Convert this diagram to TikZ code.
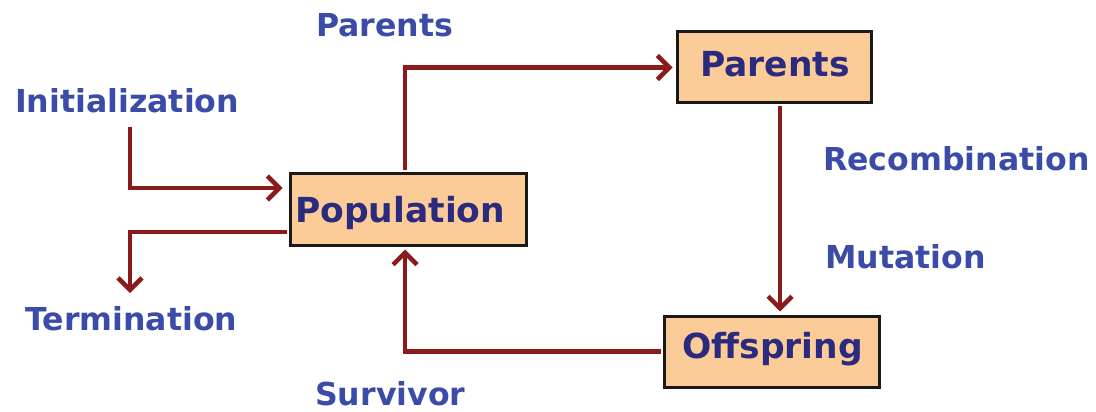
\documentclass[tikz,border=0pt]{standalone}
\usepackage{fontspec}
\setmainfont{DejaVu Sans}
\usetikzlibrary{arrows.meta}
\definecolor{boxfill}{HTML}{FBCB98}
\definecolor{boxtext}{HTML}{2A2A7E}
\definecolor{labtext}{HTML}{3A4BA8}
\definecolor{flow}{HTML}{8B1A1A}
\tikzset{
  stage/.style={draw=black!90, line width=3pt, fill=boxfill, inner sep=0pt},
  stagetext/.style={anchor=base west, inner sep=0pt, text=boxtext,
    font=\fontsize{34.5}{40}\selectfont\bfseries},
  opname/.style={anchor=base west, inner sep=0pt, text=labtext,
    font=\fontsize{31.6}{37}\selectfont\bfseries},
  flowline/.style={draw=flow, line width=4.5pt, line join=miter,
    -{Straight Barb[length=12pt,width=24pt,line width=4.5pt]}}
}
\begin{document}
\begin{tikzpicture}[x=1pt,y=-1pt]
\useasboundingbox (0,0) rectangle (1096,412);

% stages of the cycle
\node[stage, minimum width=236pt, minimum height=72pt] (pop) at (408,209) {};
\node[stage, minimum width=194pt, minimum height=71pt] (par) at (774,67.5) {};
\node[stage, minimum width=215pt, minimum height=71pt] (off) at (771.5,351.5) {};
\node[stagetext] (popt) at (295,222) {Population};
\node[stagetext] (part) at (700,77) {Parents};
\node[stagetext] (offt) at (682,358) {Offspring};

% operator names
\node[opname] (lpar) at (316,37) {Parents};
\node[opname] (linit) at (15,113) {Initialization};
\node[opname] (lterm) at (25,330) {Termination};
\node[opname] (lrec) at (823,170) {Recombination};
\node[opname] (lmut) at (825,268) {Mutation};
\node[opname] (lsurv) at (315,405) {Survivor};

% free ends
\coordinate (i0) at (130,127);
\coordinate (t1) at (130,293);

% flows
\draw[flowline, shorten >=6pt] (i0) |- ([yshift=21pt]pop.west);
\draw[flowline, shorten <=1.5pt] ([yshift=-23pt]pop.west) -| (t1);
\draw[flowline, shorten <=1.5pt, shorten >=3pt] ([xshift=-3pt]pop.north) |- (par.west);
\draw[flowline, shorten <=1.5pt, shorten >=3pt] ([xshift=6pt]par.south) -- ([xshift=6pt]par.south |- off.north);
\draw[flowline, shorten <=1.5pt, shorten >=3pt] (off.west) -| ([xshift=-3pt]pop.south);
\end{tikzpicture}
\end{document}
